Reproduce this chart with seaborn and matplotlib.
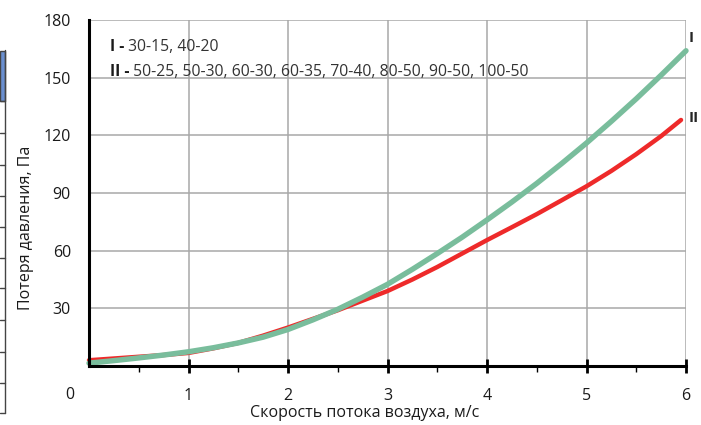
import numpy as np
import pandas as pd
import seaborn as sns
import matplotlib.pyplot as plt
from matplotlib.lines import Line2D
from matplotlib.patches import Rectangle

# curve I (30-15, 40-20)
speed_1 = [0, 0.25, 0.5, 0.75, 1, 1.25, 1.5, 1.75, 2, 2.25, 2.5, 2.75, 3, 3.25,
           3.5, 3.75, 4, 4.25, 4.5, 4.75, 5, 5.25, 5.5, 5.75, 6]
loss_1 = [1.5, 2.8, 4.2, 5.7, 7.4, 9.5, 12, 15, 19, 24, 29.5, 35.8, 42.5, 50.3,
          58.5, 67, 76, 85.3, 95, 105.3, 116, 127.3, 139, 151.3, 164]

# curve II (50-25 ... 100-50)
speed_2 = [0, 0.25, 0.5, 0.75, 1, 1.25, 1.5, 1.75, 2, 2.25, 2.5, 2.75, 3, 3.25,
           3.5, 3.75, 4, 4.25, 4.5, 4.75, 5, 5.25, 5.5, 5.75, 5.95]
loss_2 = [3, 3.9, 4.8, 5.7, 6.8, 9.2, 12, 15.8, 20, 24.5, 29, 34, 39, 45,
          51.5, 58.5, 65.5, 72.2, 79, 86.2, 93.5, 101.5, 110.2, 119.6, 128]

x_ticks = [1, 2, 3, 4, 5, 6]
y_ticks = [30, 60, 90, 120, 150, 180]

legend_1 = "30-15, 40-20"
legend_2 = "50-25, 50-30, 60-30, 60-35, 70-40, 80-50, 90-50, 100-50"

sns.set_style("white")
plt.rcParams['font.family'] = ['Open Sans', 'DejaVu Sans']

W, H = 701, 425
fig = plt.figure(figsize=(W / 100, H / 100), dpi=100)
ax = fig.add_axes([89 / W, 1 - 366 / H, (686 - 89) / W, (366 - 20) / H])

df1 = pd.DataFrame({"x": speed_1, "y": loss_1})
df2 = pd.DataFrame({"x": speed_2, "y": loss_2})
sns.lineplot(data=df2, x="x", y="y", ax=ax, color="#ee2a2a", linewidth=3.2,
             zorder=4, clip_on=False)
sns.lineplot(data=df1, x="x", y="y", ax=ax, color="#79bd9c", linewidth=3.9,
             zorder=5, clip_on=False)

ax.set_xlim(0, 6)
ax.set_ylim(0, 180)
ax.set_xticks(x_ticks)
ax.set_xticks(np.arange(0.5, 6, 1.0), minor=True)
ax.set_yticks(y_ticks)
ax.grid(True, which="major", color="#a8a8a8", linewidth=1.1)
ax.set_axisbelow(True)

for s in ["top", "right"]:
    ax.spines[s].set_visible(False)
for s in ["left", "bottom"]:
    ax.spines[s].set_color("black")
    ax.spines[s].set_linewidth(2.2)
    ax.spines[s].set_zorder(6)

ax.tick_params(axis="x", which="major", direction="inout", length=10, width=2,
               color="black", labelsize=11.5, pad=11, bottom=True)
ax.tick_params(axis="x", which="minor", direction="out", length=4, width=1,
               color="black", bottom=True)
ax.tick_params(axis="y", which="major", length=0, labelsize=11.5, pad=13)
for lab in ax.get_xticklabels() + ax.get_yticklabels():
    lab.set_color("#1a1a1a")

ax.set_xlabel("Скорость потока воздуха, м/с", fontsize=11.5, color="#1a1a1a")
ax.set_ylabel("Потеря давления, Па", fontsize=11.5, color="#1a1a1a")
ax.xaxis.set_label_coords(276 / 597, -0.112)
ax.yaxis.set_label_coords(-0.092, 0.40)

# shared origin label
ax.text(-19 / 597, -29 / 346, "0", transform=ax.transAxes, ha="center",
        va="center", fontsize=11.5, color="#1a1a1a")

# series labels at the curve ends
ax.text(6.03, 170.5, "I", fontsize=11, fontweight="bold", ha="left", va="center")
ax.text(6.03, 129, "II", fontsize=11, fontweight="bold", ha="left", va="center")

# key text
t1 = ax.text(0.21, 166, "I -", fontsize=11.3, fontweight="bold", va="center", color="#1a1a1a")
ax.annotate(" " + legend_1, xy=(1, 0.5), xycoords=t1, va="center", fontsize=11.3,
            color="#333333")
t2 = ax.text(0.21, 153, "II -", fontsize=11.3, fontweight="bold", va="center", color="#1a1a1a")
ax.annotate(" " + legend_2, xy=(1, 0.5), xycoords=t2, va="center", fontsize=11.3,
            color="#333333")

# table edge left of the chart
fig.add_artist(Rectangle((0, 1 - 101 / H), 5 / W, 50 / H, transform=fig.transFigure,
                         facecolor="#6a8fd0", edgecolor="#444444", linewidth=1))
fig.add_artist(Line2D([5 / W, 5 / W], [1 - 50 / H, 1 - 413 / H], transform=fig.transFigure,
                      color="#444444", linewidth=1))
for yy in [101, 133, 165, 196, 227, 258, 288, 320, 352, 383, 413]:
    fig.add_artist(Line2D([0, 5 / W], [1 - yy / H, 1 - yy / H], transform=fig.transFigure,
                          color="#444444", linewidth=1))

fig.savefig("out.png", dpi=100)
